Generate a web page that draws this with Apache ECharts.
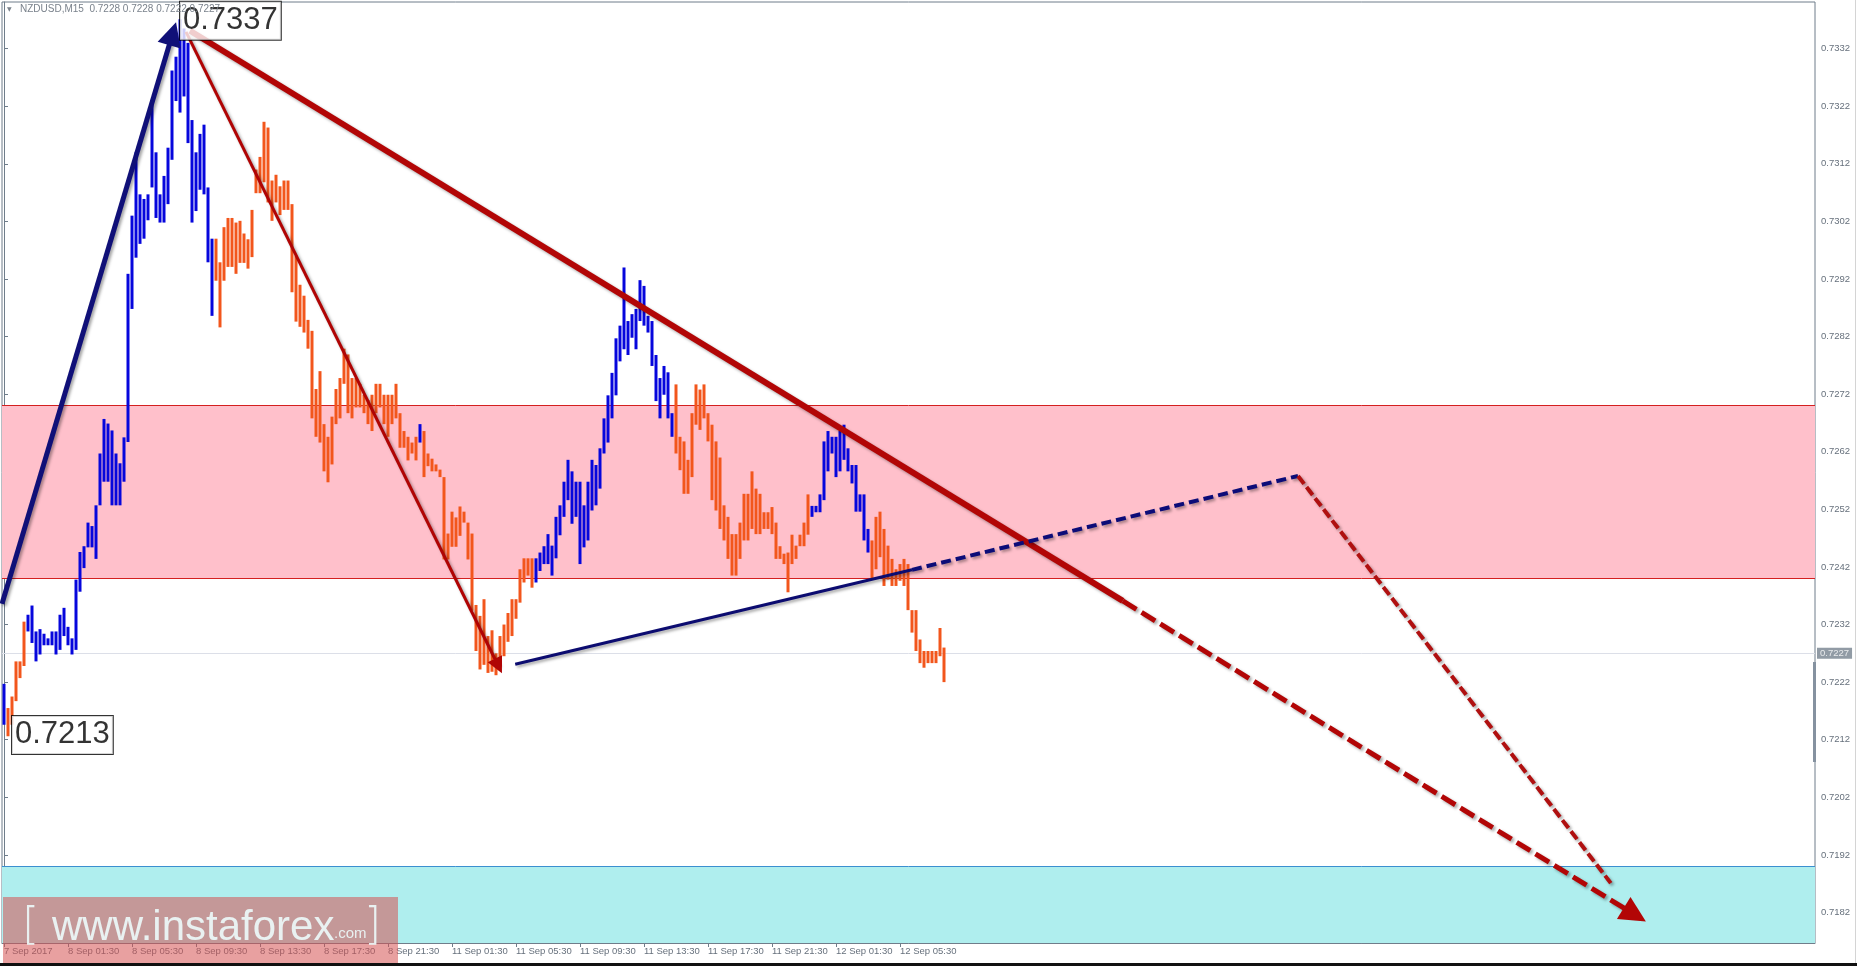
<!DOCTYPE html>
<html>
<head>
<meta charset="utf-8">
<title>NZDUSD M15</title>
<script src="https://cdn.jsdelivr.net/npm/echarts@6/dist/echarts.min.js"></script>
<style>
  html, body { margin: 0; padding: 0; background: #fff; }
  #chart { width: 1857px; height: 966px; }
</style>
</head>
<body>
<div id="chart"></div>
<script>
// M15 bars, 7 Sep 21:30 .. 12 Sep 08:15
const highs = [
  0.72217, 0.72175, 0.72195, 0.72256, 0.72256, 0.72325, 0.72337, 0.72353, 0.72308, 0.72312,
  0.72304, 0.72296, 0.72308, 0.72308, 0.72337, 0.72349, 0.72316, 0.72296, 0.72398, 0.72446,
  0.72456, 0.72497, 0.72491, 0.72527, 0.72617, 0.72677, 0.72669, 0.72657, 0.72617, 0.72600,
  0.72645, 0.72929, 0.73030, 0.73140, 0.73067, 0.73059, 0.73067, 0.73229, 0.73140, 0.73067,
  0.73099, 0.73148, 0.73282, 0.73306, 0.73371, 0.73355, 0.73330, 0.73196, 0.73140, 0.73172,
  0.73188, 0.73079, 0.72990, 0.72990, 0.72949, 0.73010, 0.73026, 0.73026, 0.73018, 0.73021,
  0.72999, 0.72989, 0.73040, 0.73110, 0.73132, 0.73193, 0.73183, 0.73091, 0.73101, 0.73081,
  0.73091, 0.73091, 0.73050, 0.72961, 0.72910, 0.72891, 0.72849, 0.72830, 0.72729, 0.72760,
  0.72668, 0.72646, 0.72681, 0.72729, 0.72748, 0.72799, 0.72789, 0.72748, 0.72748, 0.72738,
  0.72719, 0.72710, 0.72719, 0.72738, 0.72738, 0.72719, 0.72719, 0.72719, 0.72738, 0.72687,
  0.72656, 0.72646, 0.72636, 0.72646, 0.72668, 0.72656, 0.72617, 0.72608, 0.72598, 0.72589,
  0.72576, 0.72478, 0.72516, 0.72506, 0.72525, 0.72516, 0.72497, 0.72478, 0.72354, 0.72335,
  0.72364, 0.72300, 0.72310, 0.72270, 0.72300, 0.72320, 0.72340, 0.72364, 0.72364, 0.72416,
  0.72435, 0.72435, 0.72435, 0.72435, 0.72445, 0.72456, 0.72477, 0.72457, 0.72507, 0.72527,
  0.72568, 0.72606, 0.72586, 0.72568, 0.72568, 0.72527, 0.72568, 0.72606, 0.72597, 0.72626,
  0.72678, 0.72718, 0.72757, 0.72817, 0.72839, 0.72940, 0.72847, 0.72859, 0.72868, 0.72918,
  0.72908, 0.72856, 0.72847, 0.72788, 0.72748, 0.72769, 0.72758, 0.72687, 0.72737, 0.72646,
  0.72638, 0.72606, 0.72687, 0.72737, 0.72728, 0.72737, 0.72687, 0.72667, 0.72638, 0.72610,
  0.72527, 0.72507, 0.72477, 0.72477, 0.72497, 0.72547, 0.72547, 0.72586, 0.72556, 0.72547,
  0.72515, 0.72515, 0.72524, 0.72497, 0.72456, 0.72443, 0.72445, 0.72476, 0.72457, 0.72476,
  0.72497, 0.72546, 0.72526, 0.72526, 0.72546, 0.72638, 0.72656, 0.72646, 0.72646, 0.72656,
  0.72667, 0.72626, 0.72597, 0.72597, 0.72546, 0.72546, 0.72486, 0.72466, 0.72507, 0.72516,
  0.72486, 0.72457, 0.72434, 0.72416, 0.72425, 0.72434, 0.72425, 0.72345, 0.72345, 0.72294,
  0.72274, 0.72274, 0.72274, 0.72274, 0.72314, 0.72280
];
const lows = [
  0.72146, 0.72126, 0.72146, 0.72187, 0.72227, 0.72248, 0.72308, 0.72288, 0.72256, 0.72268,
  0.72284, 0.72284, 0.72284, 0.72268, 0.72276, 0.72300, 0.72284, 0.72268, 0.72276, 0.72377,
  0.72418, 0.72454, 0.72454, 0.72434, 0.72527, 0.72568, 0.72568, 0.72527, 0.72527, 0.72527,
  0.72568, 0.72637, 0.72868, 0.72957, 0.72981, 0.72990, 0.73022, 0.73079, 0.73026, 0.73018,
  0.73018, 0.73050, 0.73127, 0.73229, 0.73209, 0.73237, 0.73156, 0.73018, 0.73038, 0.73075,
  0.73067, 0.72949, 0.72856, 0.72917, 0.72836, 0.72917, 0.72941, 0.72941, 0.72929, 0.72948,
  0.72948, 0.72938, 0.72958, 0.73069, 0.73069, 0.73088, 0.73053, 0.73021, 0.73053, 0.73031,
  0.73040, 0.73040, 0.72897, 0.72846, 0.72837, 0.72827, 0.72799, 0.72678, 0.72646, 0.72636,
  0.72586, 0.72567, 0.72598, 0.72668, 0.72678, 0.72738, 0.72687, 0.72678, 0.72697, 0.72697,
  0.72687, 0.72668, 0.72656, 0.72687, 0.72697, 0.72668, 0.72646, 0.72668, 0.72678, 0.72627,
  0.72627, 0.72605, 0.72617, 0.72605, 0.72636, 0.72576, 0.72595, 0.72586, 0.72586, 0.72576,
  0.72433, 0.72433, 0.72455, 0.72455, 0.72474, 0.72497, 0.72433, 0.72344, 0.72274, 0.72242,
  0.72250, 0.72236, 0.72238, 0.72232, 0.72250, 0.72265, 0.72290, 0.72300, 0.72330, 0.72358,
  0.72393, 0.72405, 0.72384, 0.72393, 0.72413, 0.72425, 0.72425, 0.72405, 0.72435, 0.72475,
  0.72507, 0.72536, 0.72495, 0.72507, 0.72425, 0.72454, 0.72466, 0.72518, 0.72527, 0.72556,
  0.72617, 0.72636, 0.72678, 0.72718, 0.72777, 0.72798, 0.72788, 0.72818, 0.72798, 0.72847,
  0.72839, 0.72827, 0.72769, 0.72708, 0.72678, 0.72719, 0.72678, 0.72646, 0.72617, 0.72588,
  0.72547, 0.72547, 0.72576, 0.72667, 0.72658, 0.72678, 0.72638, 0.72536, 0.72518, 0.72486,
  0.72466, 0.72434, 0.72405, 0.72405, 0.72434, 0.72466, 0.72466, 0.72486, 0.72477, 0.72477,
  0.72486, 0.72486, 0.72477, 0.72434, 0.72434, 0.72425, 0.72376, 0.72425, 0.72434, 0.72456,
  0.72456, 0.72476, 0.72507, 0.72515, 0.72515, 0.72536, 0.72586, 0.72617, 0.72576, 0.72586,
  0.72606, 0.72586, 0.72565, 0.72516, 0.72516, 0.72466, 0.72445, 0.72398, 0.72416, 0.72437,
  0.72387, 0.72398, 0.72387, 0.72387, 0.72396, 0.72387, 0.72345, 0.72306, 0.72274, 0.72253,
  0.72245, 0.72253, 0.72253, 0.72253, 0.72265, 0.72220
];
// bars painted blue (rising legs), the rest orange
const upSwings = [[0, 0], [6, 52], [104, 104], [133, 167], [202, 216]];

const timeLabels = [
  "7 Sep 2017", "8 Sep 01:30", "8 Sep 05:30", "8 Sep 09:30", "8 Sep 13:30", "8 Sep 17:30",
  "8 Sep 21:30", "11 Sep 01:30", "11 Sep 05:30", "11 Sep 09:30", "11 Sep 13:30",
  "11 Sep 17:30", "11 Sep 21:30", "12 Sep 01:30", "12 Sep 05:30"
];
const labelStep = 16; // one label every 4 hours
const priceTicks = [
  0.7182, 0.7192, 0.7202, 0.7212, 0.7222, 0.7232, 0.7242, 0.7252,
  0.7262, 0.7272, 0.7282, 0.7292, 0.7302, 0.7312, 0.7322, 0.7332
];
const priceMin = 0.71767;
const priceMax = 0.73401;
const barMin = -0.5;
const barMax = 452.75;
const lastClose = 0.7227;
const headerText = "NZDUSD,M15  0.7228 0.7228 0.7222 0.7227";

const pinkZone = [0.7240, 0.7270];
const cyanZone = [priceMin, 0.7190];

// swing labels [bar, price]
const swingHigh = [44, 0.7337];
const swingLow = [1, 0.7213];

// hand-drawn wave lines, [bar, price] pairs
const impulseUp = [[-0.5, 0.72356], [42.15, 0.73346]];
const waveDown = [[45.5, 0.73349], [123.6, 0.72248]];
const trendLine = [[46.5, 0.73351], [279.7, 0.72361]];
const trendLineExt = [[279.7, 0.72361], [407.7, 0.71816]];
const supportLine = [[127.8, 0.72251], [227, 0.72415]];
const supportExt = [[227, 0.72415], [323.5, 0.72578]];
const forecastDrop = [[323.5, 0.72578], [401.7, 0.71871]];

const BLUE = "#0606dc";
const ORANGE = "#f2561c";
const FRAME = "#6f7d8a";
const AXIS_TEXT = "#66707c";
const MARK_TEXT = "rgba(236,248,248,0.92)";
const SHADOW = {
  shadowColor: "rgba(0,0,0,0.35)",
  shadowBlur: 3,
  shadowOffsetX: 2,
  shadowOffsetY: 2,
};

function isUp(i) {
  return upSwings.some(([a, b]) => i >= a && i <= b);
}

const bars = highs.map((h, i) => [i, h, lows[i]]);
const tickBars = timeLabels.map((_, k) => k * labelStep);

function wave(coords, color, width, dash, arrowSize, noShadow) {
  return {
    type: "lines",
    coordinateSystem: "cartesian2d",
    silent: true,
    z: noShadow ? 2 : 10,
    symbol: arrowSize ? ["none", "triangle"] : "none",
    symbolSize: arrowSize || 0,
    lineStyle: Object.assign(
      { color: color, width: width, type: dash || "solid", opacity: 1 },
      noShadow ? {} : SHADOW
    ),
    itemStyle: { color: color },
    data: [{ coords: coords }],
  };
}

function level(price, color) {
  return wave([[barMin, price], [barMax, price]], color, 1, "solid", 0, true);
}

const chart = echarts.init(document.getElementById("chart"));

chart.setOption({
  animation: false,
  backgroundColor: "#fff",
  textStyle: { fontFamily: "Liberation Sans" },
  grid: {
    left: 2,
    top: 2,
    right: 42,
    bottom: 23,
    show: true,
    borderColor: FRAME,
    borderWidth: 1,
    backgroundColor: "#fff",
  },
  xAxis: {
    type: "value",
    min: barMin,
    max: barMax,
    axisLine: { show: true, lineStyle: { color: FRAME } },
    axisTick: {
      show: true,
      customValues: tickBars,
      length: 4,
      lineStyle: { color: FRAME },
    },
    axisLabel: {
      customValues: tickBars,
      formatter: (v) => timeLabels[Math.round(v / labelStep)],
      align: "left",
      margin: 3,
      fontSize: 9.5,
      color: AXIS_TEXT,
      fontFamily: "Liberation Sans",
    },
    splitLine: { show: false },
  },
  yAxis: {
    type: "value",
    position: "right",
    min: priceMin,
    max: priceMax,
    axisLine: { show: true, lineStyle: { color: FRAME } },
    axisTick: {
      show: true,
      customValues: priceTicks,
      length: 4,
      lineStyle: { color: FRAME },
    },
    axisLabel: {
      customValues: priceTicks,
      formatter: (v) => v.toFixed(4),
      margin: 6,
      fontSize: 9.5,
      color: AXIS_TEXT,
      fontFamily: "Liberation Sans",
    },
    splitLine: { show: false },
  },
  graphic: [
    {
      type: "text",
      left: 7,
      top: 6,
      z: 50,
      style: { text: "▼", font: "6px 'DejaVu Sans'", fill: "#7a828c" },
    },
    {
      type: "text",
      left: 20,
      top: 4,
      z: 50,
      style: { text: headerText, font: "10px 'Liberation Sans'", fill: "#7a828c" },
    },
    {
      // price scroll marker on the axis
      type: "rect",
      left: 1813,
      top: 662,
      z: 50,
      shape: { width: 3, height: 100 },
      style: { fill: "#8592a0" },
    },
    {
      type: "rect",
      left: 1855,
      top: 0,
      z: 50,
      shape: { width: 1, height: 966 },
      style: { fill: "#d4d4d4" },
    },
    {
      type: "rect",
      left: 0,
      top: 963,
      z: 50,
      shape: { width: 1857, height: 3 },
      style: { fill: "#111" },
    },
    // watermark
    {
      type: "rect",
      left: 3,
      top: 897,
      z: 100,
      shape: { width: 395, height: 66 },
      style: { fill: "rgba(213,82,82,0.55)" },
    },
    {
      type: "text",
      left: 22,
      top: 906,
      z: 101,
      style: { text: "[", font: "200 44px 'DejaVu Sans'", fill: MARK_TEXT },
    },
    {
      type: "text",
      left: 52,
      top: 907,
      z: 101,
      style: { text: "www.instaforex", font: "42px 'Liberation Sans'", fill: MARK_TEXT },
    },
    {
      type: "text",
      left: 334,
      top: 926,
      z: 101,
      style: { text: ".com", font: "15px 'Liberation Sans'", fill: MARK_TEXT },
    },
    {
      type: "text",
      left: 364,
      top: 906,
      z: 101,
      style: { text: "]", font: "200 44px 'DejaVu Sans'", fill: MARK_TEXT },
    },
  ],
  series: [
    {
      // zones
      type: "line",
      data: [],
      z: 1,
      silent: true,
      markArea: {
        silent: true,
        data: [
          [
            { yAxis: pinkZone[0], itemStyle: { color: "#ffc0cb" } },
            { yAxis: pinkZone[1] },
          ],
          [
            { yAxis: cyanZone[0], itemStyle: { color: "#afeeee" } },
            { yAxis: cyanZone[1] },
          ],
        ],
      },
    },
    level(pinkZone[0], "#d42020"),
    level(pinkZone[1], "#d42020"),
    level(cyanZone[1], "#3b8fd0"),
    level(lastClose, "#dcdfe8"),
    {
      type: "custom",
      z: 3,
      silent: true,
      data: bars,
      encode: { x: 0, y: [1, 2] },
      renderItem(params, api) {
        const i = api.value(0);
        const top = api.coord([i, api.value(1)]);
        const bot = api.coord([i, api.value(2)]);
        return {
          type: "rect",
          shape: {
            x: top[0] - 1.5,
            y: top[1],
            width: 3,
            height: Math.max(bot[1] - top[1], 1),
          },
          style: { fill: isUp(i) ? BLUE : ORANGE },
        };
      },
    },
    wave(impulseUp, "#101078", 5, "solid", 24),
    wave(trendLine, "#b20606", 6, "solid", 0),
    wave(trendLineExt, "#b20606", 5, [16, 6], 26),
    wave(waveDown, "#b00404", 3, "solid", 16),
    wave(supportLine, "#0c0c70", 3, "solid", 0),
    wave(supportExt, "#0c0c78", 4, [10, 5], 0),
    wave(forecastDrop, "#b01010", 4, [10, 4], 0),
    {
      // swing extreme labels
      type: "scatter",
      z: 20,
      silent: true,
      symbolSize: 0,
      clip: false,
      data: [
        { value: swingHigh, label: { distance: 0 } },
        { value: swingLow, label: { distance: 4 } },
      ],
      label: {
        show: true,
        position: "right",
        offset: [0, 1],
        formatter: (p) => p.value[1].toFixed(4),
        fontSize: 31,
        lineHeight: 36,
        color: "#000",
        fontFamily: "Liberation Sans",
        backgroundColor: "#fff",
        borderColor: "#000",
        borderWidth: 1,
        padding: [2, 3, 0, 3],
      },
    },
    {
      // current price tag on the axis
      type: "scatter",
      z: 20,
      silent: true,
      symbolSize: 0,
      clip: false,
      data: [[barMax, lastClose]],
      label: {
        show: true,
        position: "right",
        distance: 2,
        formatter: (p) => p.value[1].toFixed(4),
        backgroundColor: "#76828f",
        color: "#fff",
        fontSize: 9.5,
        fontFamily: "Liberation Sans",
        padding: [1, 3, 0, 3],
      },
    },
  ],
});
</script>
</body>
</html>
